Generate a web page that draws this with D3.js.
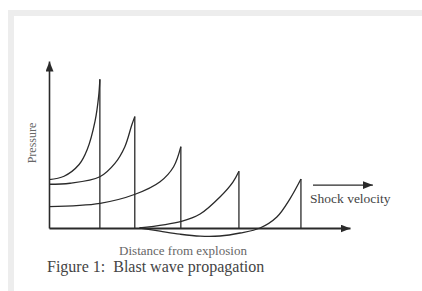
<!DOCTYPE html>
<html>
<head>
<meta charset="utf-8">
<script src="https://cdn.jsdelivr.net/npm/d3@7"></script>
<style>
  html, body { margin: 0; padding: 0; background: #fff; }
  svg { display: block; }
</style>
</head>
<body>
<div id="blast-chart"></div>
<script>
// pressure profiles, [distance, pressure], the last point is the shock front
const pulse1 = [[0, 29], [5, 31], [10, 38], [12.7, 47], [15.3, 64], [16.5, 79], [16.9, 89]];
const pulse2 = [[0, 26.2], [7, 26.8], [16.9, 30.7], [21.9, 38.7], [25.2, 48.7], [27.5, 61.7], [28.5, 66.7]];
const pulse3 = [[0, 12.8], [17, 14.8], [28.6, 20.2], [36.9, 27.7], [41.4, 36.7], [43.8, 48.7]];
const pulse4 = [[30, 0], [44, 4], [50.2, 8.4], [56.8, 18.6], [61.1, 27.5], [63.1, 34]];
const pulse5 = [[30.2, 0], [36.9, -1.9], [43.5, -3.7], [50.2, -4.9], [56.8, -4.8], [63.5, -3], [70.1, 0],
  [75.7, 6.6], [80.1, 17.6], [83.7, 29.3]];
const pulses = [pulse1, pulse2, pulse3, pulse4, pulse5];

const xLabel = "Distance from explosion";
const yLabel = "Pressure";
const velocityLabel = "Shock velocity";
const caption = "Figure 1:  Blast wave propagation";

const width = 422;
const height = 291;

const svg = d3.select("#blast-chart")
  .append("svg")
  .attr("width", width)
  .attr("height", height);

// grey frame on the top and left edge
svg.append("rect").attr("x", 0).attr("y", 0).attr("width", width).attr("height", height).attr("fill", "#fff");
svg.append("rect").attr("x", 8).attr("y", 10).attr("width", width - 8).attr("height", 6).attr("fill", "#ededed");
svg.append("rect").attr("x", 8).attr("y", 10).attr("width", 6).attr("height", height - 10).attr("fill", "#ededed");

const x = d3.scaleLinear().domain([0, 100]).range([49, 350]);
const y = d3.scaleLinear().domain([0, 100]).range([228, 61]);

const ink = "#2a2a2a";

// arrow head marker
svg.append("defs").append("marker")
  .attr("id", "arrow")
  .attr("viewBox", "0 0 10 8")
  .attr("refX", 10)
  .attr("refY", 4)
  .attr("markerWidth", 10)
  .attr("markerHeight", 8)
  .attr("markerUnits", "userSpaceOnUse")
  .attr("orient", "auto")
  .append("path")
  .attr("d", "M0,0L10,4L0,8Z")
  .attr("fill", ink);

// X axis
const xAxis = svg.append("g")
  .attr("transform", "translate(0," + y(0) + ")")
  .call(d3.axisBottom(x).tickValues([]).tickSizeOuter(0));
xAxis.select(".domain")
  .attr("stroke", ink)
  .attr("stroke-width", 2)
  .attr("marker-end", "url(#arrow)");

// Y axis
const yAxis = svg.append("g")
  .attr("transform", "translate(" + x(0) + ",0)")
  .call(d3.axisLeft(y).tickValues([]).tickSizeOuter(0));
yAxis.select(".domain")
  .attr("stroke", ink)
  .attr("stroke-width", 1.6)
  .attr("marker-end", "url(#arrow)");

// pressure curves
const line = d3.line()
  .x(d => x(d[0]))
  .y(d => y(d[1]))
  .curve(d3.curveCatmullRom.alpha(0.5));

svg.selectAll(".pulse")
  .data(pulses)
  .enter()
  .append("path")
  .attr("class", "pulse")
  .attr("d", line)
  .attr("fill", "none")
  .attr("stroke", ink)
  .attr("stroke-width", 1.3);

// shock fronts drop back to the axis
svg.selectAll(".front")
  .data(pulses)
  .enter()
  .append("line")
  .attr("class", "front")
  .attr("x1", d => x(d[d.length - 1][0]))
  .attr("x2", d => x(d[d.length - 1][0]))
  .attr("y1", d => y(d[d.length - 1][1]))
  .attr("y2", y(0))
  .attr("stroke", ink)
  .attr("stroke-width", 1.3);

// shock velocity arrow
svg.append("line")
  .attr("x1", x(87.7)).attr("x2", x(107.6))
  .attr("y1", y(25.7)).attr("y2", y(25.7))
  .attr("stroke", ink)
  .attr("stroke-width", 1.4)
  .attr("marker-end", "url(#arrow)");

svg.append("text")
  .attr("x", 310)
  .attr("y", 203)
  .attr("font-family", "Liberation Serif, serif")
  .attr("font-size", 13.5)
  .attr("fill", "#444")
  .text(velocityLabel);

svg.append("text")
  .attr("transform", "translate(36,143) rotate(-90)")
  .attr("text-anchor", "middle")
  .attr("font-family", "Liberation Serif, serif")
  .attr("font-size", 12)
  .attr("fill", "#666")
  .text(yLabel);

svg.append("text")
  .attr("x", 183)
  .attr("y", 255)
  .attr("text-anchor", "middle")
  .attr("font-family", "Liberation Serif, serif")
  .attr("font-size", 13)
  .attr("fill", "#666")
  .text(xLabel);

svg.append("text")
  .attr("x", 47)
  .attr("y", 272)
  .attr("font-family", "Liberation Serif, serif")
  .attr("font-size", 16)
  .attr("fill", "#444")
  .style("white-space", "pre")
  .text(caption);
</script>
</body>
</html>
